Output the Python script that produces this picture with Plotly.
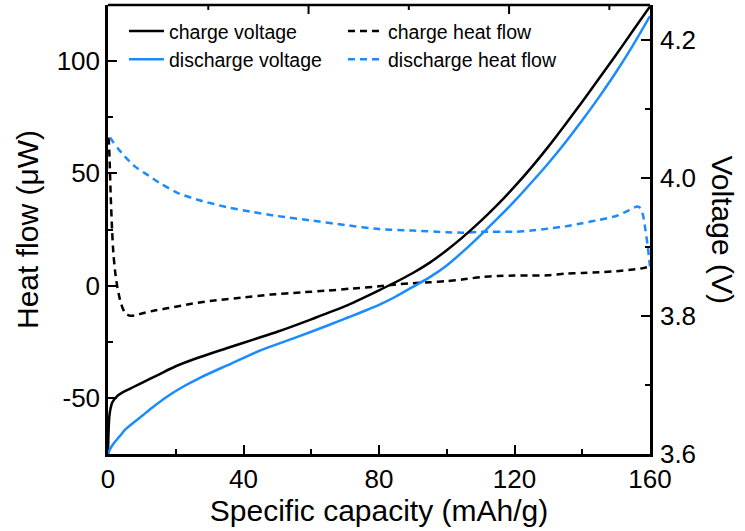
import plotly.graph_objects as go

# ---- data ----
chg_v_cap = [0, 0.15, 0.4, 0.8, 1.2, 2, 3, 5, 7.5, 10, 15, 20, 27, 35, 45, 50, 60, 70, 80, 85, 90, 95,
             100, 105, 110, 115, 120, 125, 130, 135, 140, 145, 150, 155, 160]
chg_v = [3.600, 3.630, 3.655, 3.667, 3.674, 3.680, 3.685, 3.691, 3.697, 3.703, 3.715, 3.727, 3.740,
         3.753, 3.769, 3.777, 3.795, 3.814, 3.837, 3.849, 3.862, 3.877, 3.895, 3.915, 3.937, 3.961,
         3.987, 4.015, 4.045, 4.077, 4.110, 4.144, 4.178, 4.213, 4.248]

dis_v_cap = [0, 0.3, 0.6, 1.5, 3.5, 5, 7.4, 10, 13, 17.4, 22, 27, 35, 45, 50, 60, 70, 80, 85, 90, 95,
             100, 105, 110, 115, 120, 125, 130, 135, 140, 145, 150, 155, 160]
dis_v = [3.600, 3.604, 3.607, 3.614, 3.626, 3.635, 3.645, 3.655, 3.667, 3.683, 3.697, 3.710, 3.728,
         3.750, 3.759, 3.777, 3.796, 3.816, 3.828, 3.842, 3.856, 3.873, 3.894, 3.917, 3.941, 3.966,
         3.993, 4.021, 4.051, 4.083, 4.117, 4.153, 4.192, 4.234]

chg_q_cap = [0.2, 0.5, 0.8, 1.2, 1.6, 2.2, 2.8, 3.5, 4.3, 5.2, 6.5, 8, 10, 14, 18, 25, 32, 40, 48, 57,
             65, 72, 80, 85, 90, 95, 100, 105, 110, 115, 120, 125, 130, 135, 140, 145, 150, 155, 158, 160]
chg_q = [66, 55, 40, 25, 14, 5, -1, -6, -10, -12.5, -13.4, -13.2, -12.4, -11, -10, -8, -6.5, -5.3, -4,
         -3, -2.2, -1.3, -0.3, 0.5, 1.1, 1.5, 2, 2.8, 3.8, 4.3, 4.5, 4.5, 4.6, 5.3, 5.6, 6, 6.4, 7.2, 7.8, 8.5]

dis_q_cap = [0.6, 1.5, 3, 5, 8, 12, 16, 21, 27, 35, 42, 50, 60, 70, 80, 90, 100, 105, 110, 120, 125,
             130, 135, 140, 145, 150, 153, 156.2, 157.2, 158, 158.6, 159.3, 160]
dis_q = [66, 64, 61, 57.5, 53, 49, 45, 41, 38, 35, 33, 31, 29, 27, 25.2, 24.5, 23.8, 23.6, 24, 24, 24.5,
         25.4, 26.4, 27.8, 29.3, 31, 33, 35.2, 34.5, 31, 25.4, 18, 8.5]

x_ticks = [0, 40, 80, 120, 160]
hf_ticks = [-50, 0, 50, 100]
hf_ticktext = ["-50", "0", "50", "100"]
v_ticks = [3.6, 3.8, 4.0, 4.2]
# tick positions of the unlabelled top frame axis (in capacity units)
top_major_ticks = [59.2, 118.4]
top_minor_ticks = [29.6, 88.8, 148.0]

BLUE = "#1a8cff"
FONT = "Liberation Sans, Arial, Helvetica, sans-serif"
DASH = "7px,5px"

fig = go.Figure()
fig.add_trace(go.Scatter(x=chg_v_cap, y=chg_v, yaxis="y2", mode="lines", name="charge voltage",
                         line=dict(color="black", width=2.5, shape="spline", smoothing=0.8)))
fig.add_trace(go.Scatter(x=chg_q_cap, y=chg_q, yaxis="y", mode="lines", name="charge heat flow",
                         line=dict(color="black", width=2.5, dash=DASH, shape="spline", smoothing=0.6)))
fig.add_trace(go.Scatter(x=dis_v_cap, y=dis_v, yaxis="y2", mode="lines", name="discharge voltage",
                         line=dict(color=BLUE, width=2.5, shape="spline", smoothing=0.8)))
fig.add_trace(go.Scatter(x=dis_q_cap, y=dis_q, yaxis="y", mode="lines", name="discharge heat flow",
                         line=dict(color=BLUE, width=2.5, dash=DASH, shape="spline", smoothing=0.6)))

axis_common = dict(showline=True, linecolor="black", linewidth=2.5, ticks="inside", ticklen=9,
                   tickwidth=2, tickcolor="black", showgrid=False, zeroline=False,
                   tickfont=dict(family=FONT, size=26, color="black"))

# top frame line and its inward ticks
shapes = [dict(type="line", xref="paper", yref="paper", x0=0, x1=1, y0=1, y1=1,
               line=dict(color="black", width=2.5), layer="above")]
for tv in top_major_ticks:
    shapes.append(dict(type="line", xref="x", yref="paper", x0=tv, x1=tv, y0=1, y1=0.98,
                       line=dict(color="black", width=2), layer="above"))
for tv in top_minor_ticks:
    shapes.append(dict(type="line", xref="x", yref="paper", x0=tv, x1=tv, y0=1, y1=0.989,
                       line=dict(color="black", width=2), layer="above"))

fig.update_layout(
    width=745, height=531,
    margin=dict(l=108, r=95, t=5, b=77),
    paper_bgcolor="white", plot_bgcolor="white",
    font=dict(family=FONT, color="black"),
    xaxis=dict(range=[0, 160], tickvals=x_ticks, ticklabelstandoff=0,
               minor=dict(dtick=20, tick0=0, ticks="inside", ticklen=5, tickwidth=2, tickcolor="black"),
               title=dict(text="Specific capacity (mAh/g)", font=dict(family=FONT, size=30), standoff=4),
               **axis_common),
    yaxis=dict(range=[-75, 125], tickvals=hf_ticks, ticktext=hf_ticktext, ticklabelstandoff=0,
               minor=dict(dtick=25, tick0=0, ticks="inside", ticklen=5, tickwidth=2, tickcolor="black"),
               title=dict(text="Heat flow (\u03bcW)", font=dict(family=FONT, size=30), standoff=10),
               **axis_common),
    yaxis2=dict(overlaying="y", side="right", anchor="x", range=[3.6, 4.25], tickvals=v_ticks,
                tickformat=".1f", ticklabelstandoff=2,
                minor=dict(dtick=0.1, tick0=3.6, ticks="inside", ticklen=5, tickwidth=2, tickcolor="black"),
                **axis_common),
    legend=dict(orientation="h", x=0.0295, y=0.985, xanchor="left", yanchor="top",
                entrywidth=169, itemwidth=35, bgcolor="rgba(0,0,0,0)", borderwidth=0,
                font=dict(family=FONT, size=19.5, color="black"), tracegroupgap=0),
    showlegend=True,
    shapes=shapes,
    annotations=[dict(text="Voltage (V)", xref="paper", yref="paper", x=1, y=0.5,
                      xanchor="center", yanchor="middle",
                      xshift=72, textangle=90, showarrow=False,
                      font=dict(family=FONT, size=30, color="black"))],
)

fig.write_html("out.html")
